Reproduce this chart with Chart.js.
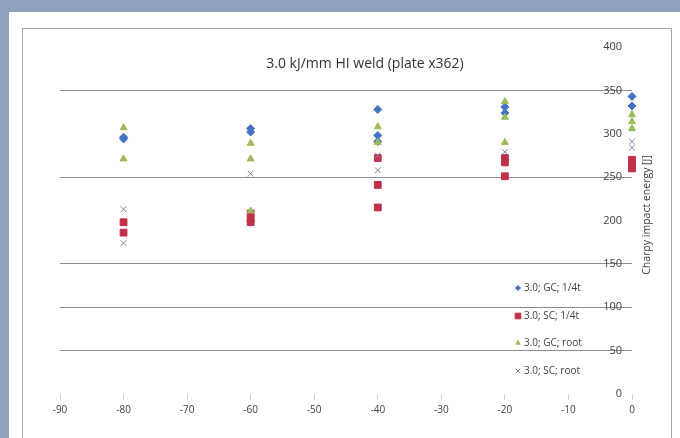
<!DOCTYPE html>
<html>
<head>
<meta charset="utf-8">
<script src="https://cdn.jsdelivr.net/npm/chart.js@4/dist/chart.umd.min.js"></script>
<style>
  html, body { margin: 0; padding: 0; background: #8ea2bd; }
  #wrap { position: relative; width: 680px; height: 438px; }
  canvas { display: block; }
</style>
</head>
<body>
<div id="wrap"><canvas id="c" width="680" height="438"></canvas></div>
<script>
// Charpy impact energy vs. test temperature, 3.0 kJ/mm heat input weld
const chartTitle = '3.0 kJ/mm HI weld (plate x362)';
const yTitle = 'Charpy impact energy [J]';
const seriesLabels = ['3.0; GC; 1/4t', '3.0; SC; 1/4t', '3.0; GC; root', '3.0; SC; root'];

// Temperatures [°C] and energies [J] for each notch location
const gcQuarterTemp   = [-80, -80, -60, -60, -40, -40, -40, -20, -20, 0, 0];
const gcQuarterEnergy = [294, 296, 306, 302, 328, 298, 291, 331, 324, 343, 332];

const scQuarterTemp   = [-80, -80, -60, -60, -60, -40, -40, -40, -20, -20, -20, 0, 0, 0];
const scQuarterEnergy = [198, 186, 208, 202, 198, 272, 241, 215, 272, 267, 251, 270, 265, 260];

const gcRootTemp   = [-80, -80, -60, -60, -60, -40, -40, -20, -20, -20, 0, 0, 0];
const gcRootEnergy = [307, 271, 289, 271, 211, 308, 290, 337, 319, 290, 322, 314, 306];

const scRootTemp   = [-80, -80, -60, -40, -40, -20, 0, 0];
const scRootEnergy = [213, 174, 254, 275, 258, 279, 291, 284];

const xTicks = { min: -90, max: 0, step: 10 };
const yTicks = { min: 0, max: 400, step: 50 };
const drawnGridValues = [50, 100, 150, 250, 350];

const FONT = '"Open Sans", "DejaVu Sans", sans-serif';
const TEXT = '#404040';

function pairs(xs, ys) { return xs.map((x, i) => ({ x: x, y: ys[i] })); }

const styles = [
  { color: '#4472c4', pointStyle: 'rectRot', radius: 4,   legendRadius: 2.5 },
  { color: '#c0304a', pointStyle: 'rect',    radius: 4.8, legendRadius: 4 },
  { color: '#9bbb59', pointStyle: 'triangle', radius: 4,  legendRadius: 2.5 },
  { color: '#8a80a8', pointStyle: 'crossRot', radius: 4,  legendRadius: 3 }
];
const series = [
  pairs(gcQuarterTemp, gcQuarterEnergy),
  pairs(scQuarterTemp, scQuarterEnergy),
  pairs(gcRootTemp, gcRootEnergy),
  pairs(scRootTemp, scRootEnergy)
];

const datasets = series.map((d, i) => ({
  label: seriesLabels[i],
  data: d,
  pointStyle: styles[i].pointStyle,
  pointRadius: styles[i].radius,
  pointBackgroundColor: styles[i].color,
  pointBorderColor: styles[i].color,
  pointBorderWidth: 1,
  showLine: false,
  clip: false,
  order: 4 - i
}));

// Frame: grey-blue surround, white panel, thin grey border
const framePlugin = {
  id: 'frame',
  beforeDraw(chart) {
    const ctx = chart.ctx;
    ctx.save();
    ctx.fillStyle = '#8ea2bd';
    ctx.fillRect(0, 0, chart.width, chart.height);
    ctx.fillStyle = '#ffffff';
    ctx.fillRect(9, 12, chart.width - 9, chart.height - 12);
    ctx.strokeStyle = '#a6a6a6';
    ctx.lineWidth = 1;
    ctx.strokeRect(22.5, 28.5, 649, 430);
    ctx.restore();
  }
};

// Title, rotated axis title and in-plot legend
const annotatePlugin = {
  id: 'annotate',
  afterDraw(chart) {
    const ctx = chart.ctx;
    ctx.save();
    ctx.fillStyle = '#333333';
    ctx.font = '14px ' + FONT;
    ctx.textAlign = 'center';
    ctx.textBaseline = 'middle';
    ctx.fillText(chartTitle, 365, 64);

    ctx.save();
    ctx.translate(647, 215);
    ctx.rotate(-Math.PI / 2);
    ctx.font = '10.5px ' + FONT;
    ctx.fillStyle = TEXT;
    ctx.fillText(yTitle, 0, 0);
    ctx.restore();

    const rows = [288, 316, 343, 371];
    ctx.font = '10px ' + FONT;
    ctx.textAlign = 'left';
    chart.data.datasets.forEach((ds, i) => {
      const st = styles[i];
      ctx.fillStyle = st.color;
      ctx.strokeStyle = st.color;
      ctx.lineWidth = 1;
      Chart.helpers.drawPoint(ctx, { pointStyle: st.pointStyle, radius: st.legendRadius, borderWidth: 1 }, 518, rows[i]);
      ctx.fillStyle = TEXT;
      ctx.fillText(ds.label, 524, rows[i] + 0.5);
    });
    ctx.restore();
  }
};

new Chart(document.getElementById('c'), {
  type: 'scatter',
  data: { datasets: datasets },
  options: {
    responsive: false,
    animation: false,
    events: [],
    layout: { padding: { left: 60, top: 47, right: 0, bottom: 14 } },
    plugins: { legend: { display: false }, title: { display: false }, tooltip: { enabled: false } },
    scales: {
      x: {
        type: 'linear',
        position: 'bottom',
        min: xTicks.min, max: xTicks.max,
        ticks: { stepSize: xTicks.step, color: TEXT, font: { family: FONT, size: 10 }, padding: 4, maxRotation: 0 },
        grid: { drawOnChartArea: false, drawTicks: true, tickLength: 6, color: '#d4d4d4' },
        border: { display: false },
        afterFit(s) { s.height = 30; }
      },
      y: {
        type: 'linear',
        position: 'right',
        min: yTicks.min, max: yTicks.max,
        ticks: { stepSize: yTicks.step, mirror: true, padding: -10, color: TEXT, font: { family: FONT, size: 11 } },
        grid: {
          drawTicks: false,
          lineWidth: 1,
          color: (c) => drawnGridValues.includes(c.tick && c.tick.value) ? '#8c8c8c' : 'rgba(0,0,0,0)'
        },
        border: { display: false },
        afterFit(s) { s.width = 48; }
      }
    }
  },
  plugins: [framePlugin, annotatePlugin]
});
</script>
</body>
</html>
